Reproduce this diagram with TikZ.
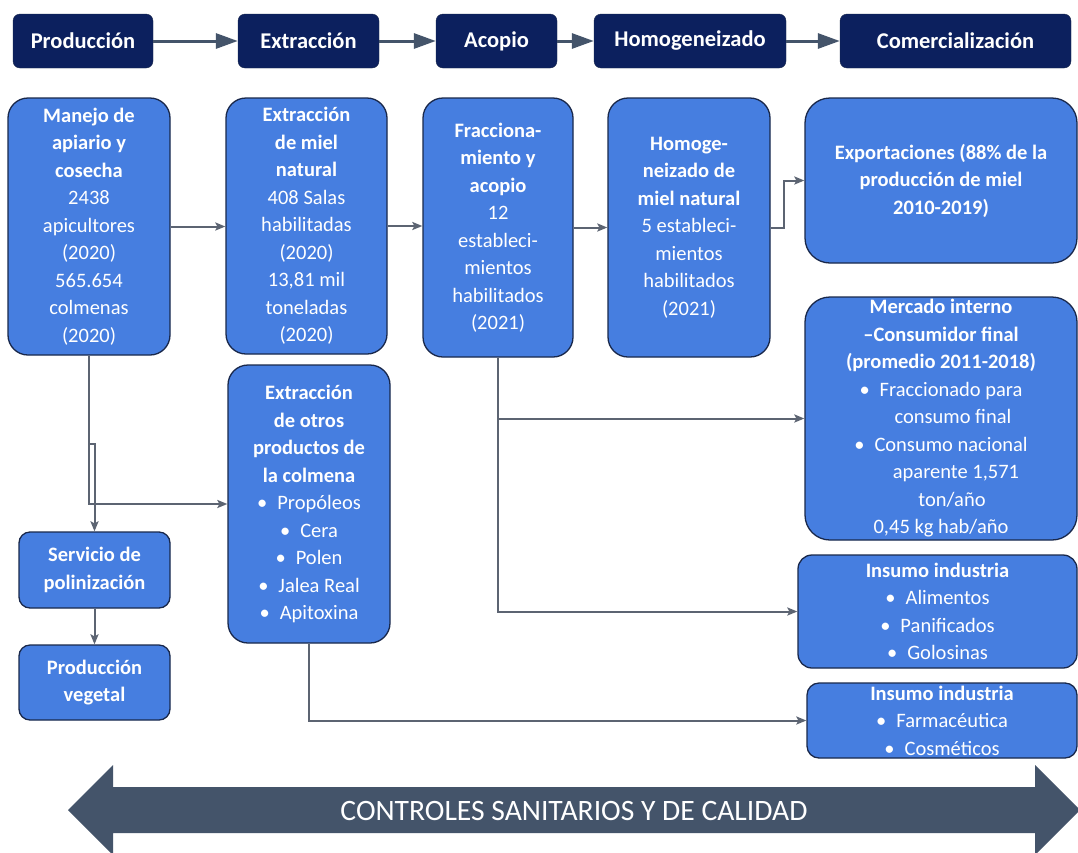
\documentclass[tikz,border=0pt]{standalone}
\usepackage{fontspec}
\setmainfont{Carlito}
\usetikzlibrary{arrows.meta}
\definecolor{boxblue}{RGB}{70,126,224}
\definecolor{boxline}{RGB}{25,40,75}
\definecolor{navy}{RGB}{12,32,94}
\definecolor{slate}{RGB}{68,84,106}
\definecolor{connc}{RGB}{92,100,114}
\begin{document}
\begin{tikzpicture}[x=1pt,y=-1pt,
  hdr/.style={draw=boxline, fill=navy, rounded corners=7pt, text=white,
    font=\fontsize{22.5}{26}\selectfont\bfseries, inner sep=0pt, minimum height=54pt},
  bx/.style={draw=boxline, line width=1.3pt, fill=boxblue, text=white, align=center,
    inner sep=0pt, font=\fontsize{20.5}{27.5}\selectfont},
  harrow/.style={draw=slate, line width=3pt, -{Triangle[length=22pt,width=15pt]}},
  conn/.style={draw=connc, line width=2pt, -{Stealth[length=10pt,width=8pt,inset=2pt]}},
]
\clip (0,0) rectangle (1078,852);
\fill[white] (0,0) rectangle (1078,852);
\useasboundingbox (0,0) rectangle (1078,852);

% header
\node[hdr, minimum width=140pt] (hprod) at (83,41) {Producción};
\node[hdr, minimum width=141pt] (hextr) at (308.5,41) {Extracción};
\node[hdr, minimum width=121pt] (hacop) at (496.5,41) {Acopio};
\node[hdr, minimum width=192pt] (hhomo) at (690,41) {Homogeneizado};
\node[hdr, minimum width=231pt] (hcome) at (955.5,41) {Comercialización};
\draw[harrow] (hprod.east) -- (hextr.west);
\draw[harrow] (hextr.east) -- (hacop.west);
\draw[harrow] (hacop.east) -- (hhomo.west);
\draw[harrow] (hhomo.east) -- (hcome.west);

% main boxes
\node[bx, rounded corners=20pt, minimum width=162pt, minimum height=257pt] (manejo) at (89,226.5)
 {\bfseries Manejo de\\\bfseries apiario y\\\bfseries cosecha\\\mdseries 2438\\\mdseries apicultores\\\mdseries (2020)\\\mdseries 565.654\\\mdseries colmenas\\\mdseries (2020)};
\node[bx, rounded corners=20pt, minimum width=161pt, minimum height=256pt] (extmiel) at (306.5,226)
 {\bfseries Extracción\\\bfseries de miel\\\bfseries natural\\\mdseries 408 Salas\\\mdseries habilitadas\\\mdseries (2020)\\\mdseries 13,81 mil\\\mdseries toneladas\\\mdseries (2020)};
\node[bx, rounded corners=20pt, minimum width=150pt, minimum height=259pt] (fracc) at (498,227.5)
 {\bfseries Fracciona-\\\bfseries miento y\\\bfseries acopio\\\mdseries 12\\\mdseries estableci-\\\mdseries mientos\\\mdseries habilitados\\\mdseries (2021)};
\node[bx, rounded corners=20pt, minimum width=162pt, minimum height=259pt] (homog) at (689,227.5)
 {\bfseries Homoge-\\\bfseries neizado de\\\bfseries miel natural\\\mdseries 5 estableci-\\\mdseries mientos\\\mdseries habilitados\\\mdseries (2021)};
\node[bx, rounded corners=25pt, minimum width=272pt, minimum height=165pt] (export) at (941,180.5)
 {\bfseries Exportaciones (88\% de la\\\bfseries producción de miel\\\bfseries 2010-2019)};
\node[bx, rounded corners=25pt, minimum width=272pt, minimum height=243pt] (mercado) at (941,418.5)
 {\bfseries Mercado interno\\\bfseries –Consumidor final\\\bfseries (promedio 2011-2018)\\
  \mdseries •\hspace{10pt}Fraccionado para\\\mdseries \hspace*{24pt}consumo final\\
  \mdseries •\hspace{10pt}Consumo nacional\\\mdseries \hspace*{30pt}aparente 1,571\\
  \mdseries \hspace*{22pt}ton/año\\\mdseries 0,45 kg hab/año};
\node[bx, rounded corners=14pt, minimum width=279pt, minimum height=113pt] (ins1) at (937.5,611.5)
 {\bfseries Insumo industria\\\mdseries •\hspace{10pt}Alimentos\\\mdseries •\hspace{10pt}Panificados\\\mdseries •\hspace{10pt}Golosinas};
\node[bx, rounded corners=12pt, minimum width=270pt, minimum height=75pt] (ins2) at (942,720.5)
 {\bfseries Insumo industria\\\mdseries •\hspace{10pt}Farmacéutica\\\mdseries •\hspace{10pt}Cosméticos};
\node[bx, rounded corners=20pt, minimum width=162pt, minimum height=278pt] (otros) at (309,504)
 {\bfseries Extracción\\\bfseries de otros\\\bfseries productos de\\\bfseries la colmena\\
  \mdseries •\hspace{10pt}Propóleos\\\mdseries •\hspace{10pt}Cera\\\mdseries •\hspace{10pt}Polen\\\mdseries •\hspace{10pt}Jalea Real\\\mdseries •\hspace{10pt}Apitoxina};
\node[bx, rounded corners=11pt, minimum width=151pt, minimum height=76pt] (servicio) at (94.5,570)
 {\bfseries Servicio de\\\bfseries polinización};
\node[bx, rounded corners=11pt, minimum width=151pt, minimum height=75pt] (prodveg) at (94.5,682.5)
 {\bfseries Producción\\\bfseries vegetal};

% connectors
\draw[conn] (manejo.east) -- (manejo.east -| extmiel.west);
\draw[conn] (extmiel.east) -- (extmiel.east -| fracc.west);
\draw[conn] (fracc.east) -- (fracc.east -| homog.west);
\draw[conn] (homog.east) -- ++(13,0) |- (export.west);
\draw[conn] (fracc.south) |- (mercado.west);
\draw[conn] (fracc.south) |- (ins1.west);
\draw[conn] (otros.south) |- (ins2.west);
\draw[conn] (manejo.south) |- (otros.west);
\draw[conn] (manejo.south) -- ++(0,88) -| (servicio.north);
\draw[conn] (servicio.south) -- (prodveg.north);

% bottom double arrow
\fill[slate] (68,810) -- (113,765) -- (113,787) -- (1035,787) -- (1035,765) -- (1080,810)
  -- (1035,855) -- (1035,833) -- (113,833) -- (113,855) -- cycle;
\node[text=white, font=\fontsize{29.6}{33}\selectfont] (ctrl) at (574,811) {CONTROLES SANITARIOS Y DE CALIDAD};
\end{tikzpicture}
\end{document}
